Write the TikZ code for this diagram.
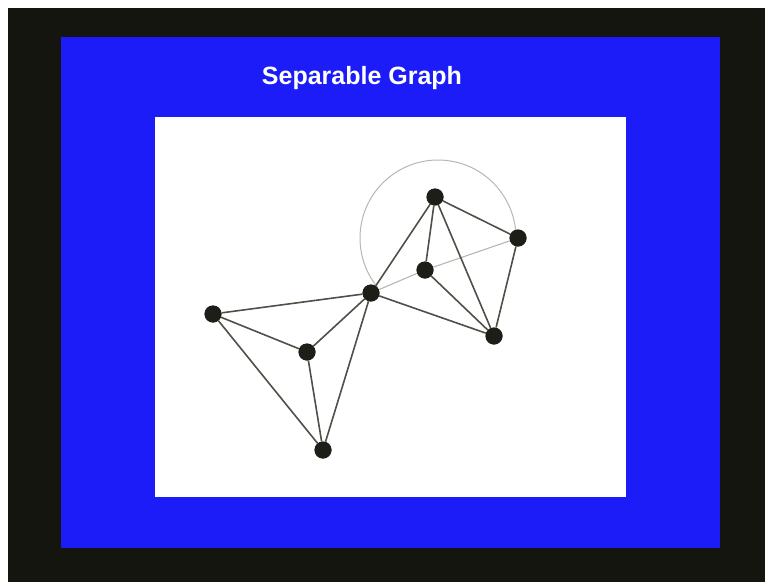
\documentclass[tikz,border=0pt]{standalone}
\usepackage{fontspec}
\setmainfont{Liberation Sans}
\definecolor{frame}{HTML}{15150F}
\definecolor{slide}{HTML}{1C1CF8}
\definecolor{edgec}{HTML}{505048}
\definecolor{faintc}{HTML}{B8B8B0}
\definecolor{vert}{HTML}{1E1E18}
\begin{document}
\begin{tikzpicture}[x=1pt,y=-1pt,
  vtx/.style={circle,fill=vert,inner sep=0pt,minimum size=17pt},
  edg/.style={draw=edgec,line width=1.6pt},
  faint/.style={draw=faintc,line width=1.1pt},
  arcline/.style={draw=faintc,line width=1pt}]
\fill[white] (0,0) rectangle (765,582);
\fill[frame] (8,8) rectangle (765,582);
\fill[slide] (61,37) rectangle (720,548);
\fill[white] (155,117) rectangle (626,497);
\node[text=white,font=\bfseries\fontsize{25}{29}\selectfont] (title) at (362,78) {Separable Graph};
\coordinate (O) at (438,238);
\node[vtx] (A) at (213,314) {};
\node[vtx] (B) at (307,352) {};
\node[vtx] (C) at (323,450) {};
\node[vtx] (D) at (371,293) {};
\node[vtx] (E) at (435,197) {};
\node[vtx] (F) at (425,270) {};
\node[vtx] (G) at (518,238) {};
\node[vtx] (H) at (494,336) {};
\draw[arcline] ([shift={(141:78)}]O) arc[start angle=141,end angle=360,radius=78];
\draw[faint] (D) -- (F);
\draw[faint] (F) -- (G);
\draw[edg] (A) -- (D);
\draw[edg] (A) -- (B);
\draw[edg] (A) -- (C);
\draw[edg] (B) -- (D);
\draw[edg] (B) -- (C);
\draw[edg] (C) -- (D);
\draw[edg] (D) -- (E);
\draw[edg] (D) -- (H);
\draw[edg] (E) -- (F);
\draw[edg] (E) -- (H);
\draw[edg] (E) -- (G);
\draw[edg] (G) -- (H);
\draw[edg] (F) -- (H);
\foreach \n in {A,B,C,D,E,F,G,H} \fill[vert] (\n) circle (8.5);
\end{tikzpicture}
\end{document}
